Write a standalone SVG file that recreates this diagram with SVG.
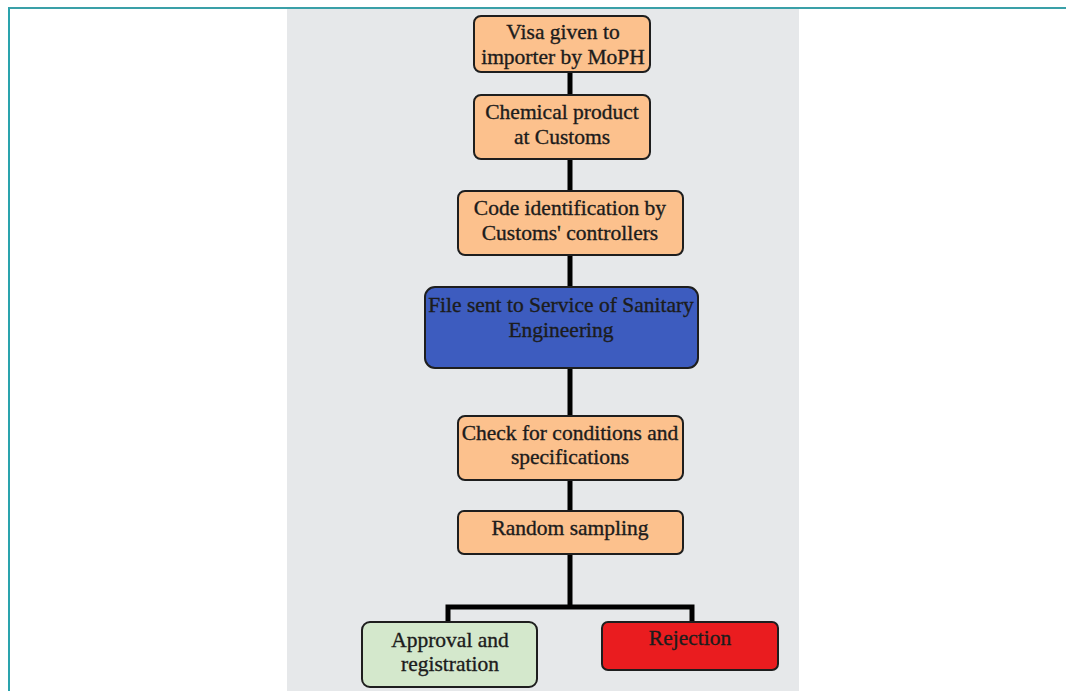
<svg xmlns="http://www.w3.org/2000/svg" width="1066" height="691" viewBox="0 0 1066 691">
  <style>
    .box { stroke: #1e1e1e; stroke-width: 2; }
    .orange { fill: #fcc18d; }
    .blue { fill: #3d5cbf; }
    .green { fill: #d4e8cc; }
    .red { fill: #ea1c1f; }
    .lbl { font-family: "Liberation Serif", "Times New Roman", serif; font-size: 21.5px; fill: #1c1c1c; stroke: #1c1c1c; stroke-width: 0.35; text-anchor: middle; }
    .wire { stroke: #000; stroke-width: 5; fill: none; }
  </style>
  <!-- page frame -->
  <rect x="0" y="0" width="1066" height="691" fill="#ffffff"/>
  <rect x="287" y="9" width="512" height="682" fill="#e6e8ea"/>
  <line x1="8" y1="8" x2="1066" y2="8" stroke="#3aa0a8" stroke-width="2"/>
  <line x1="9" y1="8" x2="9" y2="691" stroke="#2aa3ad" stroke-width="2"/>

  <!-- connectors -->
  <g id="connectors">
    <path class="wire" d="M570 72 V95 M570 159 V191 M570 255 V287 M570 368 V416 M570 480 V511 M570 554 V607"/>
    <path class="wire" d="M448 622 V607 H692 V622"/>
  </g>

  <g id="visa">
    <rect class="box orange" x="474" y="16" width="176" height="56" rx="7"/>
    <text class="lbl" x="563" y="39">Visa given to</text>
    <text class="lbl" x="563" y="64">importer by MoPH</text>
  </g>
  <g id="customs">
    <rect class="box orange" x="474" y="95" width="176" height="64" rx="7"/>
    <text class="lbl" x="562" y="119">Chemical product</text>
    <text class="lbl" x="562" y="144">at Customs</text>
  </g>
  <g id="code">
    <rect class="box orange" x="458" y="191" width="225" height="64" rx="7"/>
    <text class="lbl" x="570" y="215">Code identification by</text>
    <text class="lbl" x="570" y="240">Customs' controllers</text>
  </g>
  <g id="file">
    <rect class="box blue" x="425" y="287" width="273" height="81" rx="10"/>
    <text class="lbl" x="561" y="312">File sent to Service of Sanitary</text>
    <text class="lbl" x="561" y="337">Engineering</text>
  </g>
  <g id="check">
    <rect class="box orange" x="458" y="416" width="225" height="64" rx="7"/>
    <text class="lbl" x="570" y="440">Check for conditions and</text>
    <text class="lbl" x="570" y="464">specifications</text>
  </g>
  <g id="sampling">
    <rect class="box orange" x="458" y="511" width="225" height="43" rx="6"/>
    <text class="lbl" x="570" y="535">Random sampling</text>
  </g>
  <g id="approval">
    <rect class="box green" x="362" y="622" width="175" height="65" rx="8"/>
    <text class="lbl" x="450" y="647">Approval and</text>
    <text class="lbl" x="450" y="671">registration</text>
  </g>
  <g id="rejection">
    <rect class="box red" x="602" y="622" width="176" height="48" rx="6"/>
    <text class="lbl" x="690" y="645">Rejection</text>
  </g>
</svg>
